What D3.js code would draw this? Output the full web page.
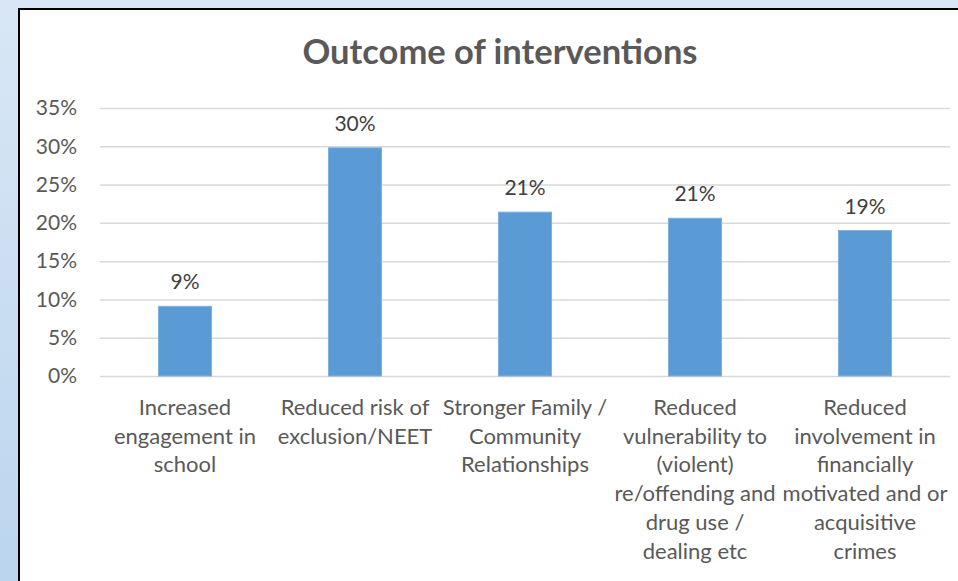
<!DOCTYPE html>
<html>
<head>
<meta charset="utf-8">
<script src="https://cdn.jsdelivr.net/npm/d3@7"></script>
<style>
  body { margin: 0; padding: 0; overflow: hidden; }
  text { font-family: Lato, "Noto Sans", sans-serif; }
</style>
</head>
<body>
<div id="chart"></div>
<script>
// data
var categories = [
  ["Increased", "engagement in", "school"],
  ["Reduced risk of", "exclusion/NEET"],
  ["Stronger Family /", "Community", "Relationships"],
  ["Reduced", "vulnerability to", "(violent)", "re/offending and", "drug use /", "dealing etc"],
  ["Reduced", "involvement in", "financially", "motivated and or", "acquisitive", "crimes"]
];
var values = [0.091, 0.298, 0.214, 0.206, 0.190];
var yTicks = [0, 0.05, 0.10, 0.15, 0.20, 0.25, 0.30, 0.35];
var title = "Outcome of interventions";

var W = 958, H = 581;
var margin = {top: 108, right: 8, bottom: 205, left: 100};
var width = W - margin.left - margin.right,
    height = H - margin.top - margin.bottom;

var svg = d3.select("#chart").append("svg")
    .attr("width", W)
    .attr("height", H);

// light blue page behind the chart box
var grad = svg.append("defs").append("linearGradient")
    .attr("id", "bg").attr("x1", 0).attr("y1", 0).attr("x2", 0).attr("y2", 1);
grad.append("stop").attr("offset", "0%").attr("stop-color", "#d9e7f5");
grad.append("stop").attr("offset", "100%").attr("stop-color", "#bbd5ee");
svg.append("rect").attr("width", W).attr("height", H).attr("fill", "url(#bg)");

// chart box, runs off the right and bottom edge
svg.append("rect")
    .attr("x", 19).attr("y", 9)
    .attr("width", 980).attr("height", 620)
    .attr("fill", "#fff")
    .attr("stroke", "#000")
    .attr("stroke-width", 2);

svg.append("text")
    .attr("x", 500).attr("y", 64)
    .attr("text-anchor", "middle")
    .style("font-size", "34.5px")
    .style("font-weight", "bold")
    .style("fill", "#595959")
    .text(title);

var g = svg.append("g")
    .attr("transform", "translate(" + margin.left + "," + margin.top + ")");

var x = d3.scaleBand()
    .domain(d3.range(categories.length))
    .range([0, width])
    .paddingInner(0.688)
    .paddingOuter(0.344);

var y = d3.scaleLinear()
    .domain([0, 0.35])
    .range([height, 0]);

// gridlines
g.append("g")
    .call(d3.axisLeft(y).tickValues(yTicks).tickSize(-width).tickFormat(""))
    .call(function(a) {
      a.select(".domain").remove();
      a.selectAll("line").attr("stroke", "#d9d9d9").attr("stroke-width", 1.5);
    });

// y tick labels
g.append("g")
    .call(d3.axisLeft(y).tickValues(yTicks).tickSize(0).tickPadding(23).tickFormat(d3.format(".0%")))
    .call(function(a) {
      a.select(".domain").remove();
      a.selectAll("text").style("font-size", "21px").style("fill", "#595959")
        .style("font-family", "Lato, 'Noto Sans', sans-serif");
    });

// bars
g.selectAll(".bar")
    .data(values)
    .enter().append("rect")
    .attr("class", "bar")
    .attr("x", function(d, i) { return x(i); })
    .attr("y", function(d) { return y(d); })
    .attr("width", x.bandwidth())
    .attr("height", function(d) { return height - y(d); })
    .attr("fill", "#5b9bd5")
    .attr("stroke", "#7fb0de")
    .attr("stroke-width", 1);

// value labels
g.selectAll(".val")
    .data(values)
    .enter().append("text")
    .attr("class", "val")
    .attr("x", function(d, i) { return x(i) + x.bandwidth() / 2; })
    .attr("y", function(d) { return y(d) - 17; })
    .attr("text-anchor", "middle")
    .style("font-size", "21px")
    .style("fill", "#404040")
    .text(function(d) { return d3.format(".0%")(d); });

// category labels
var cat = g.selectAll(".cat")
    .data(categories)
    .enter().append("text")
    .attr("class", "cat")
    .attr("text-anchor", "middle")
    .attr("transform", function(d, i) {
      return "translate(" + (x(i) + x.bandwidth() / 2) + "," + (height + 39) + ")";
    })
    .style("font-size", "22px")
    .style("fill", "#595959");

cat.selectAll("tspan")
    .data(function(d) { return d; })
    .enter().append("tspan")
    .attr("x", 0)
    .attr("dy", function(d, i) { return i === 0 ? 0 : 28.7; })
    .text(function(d) { return d; });
</script>
</body>
</html>
